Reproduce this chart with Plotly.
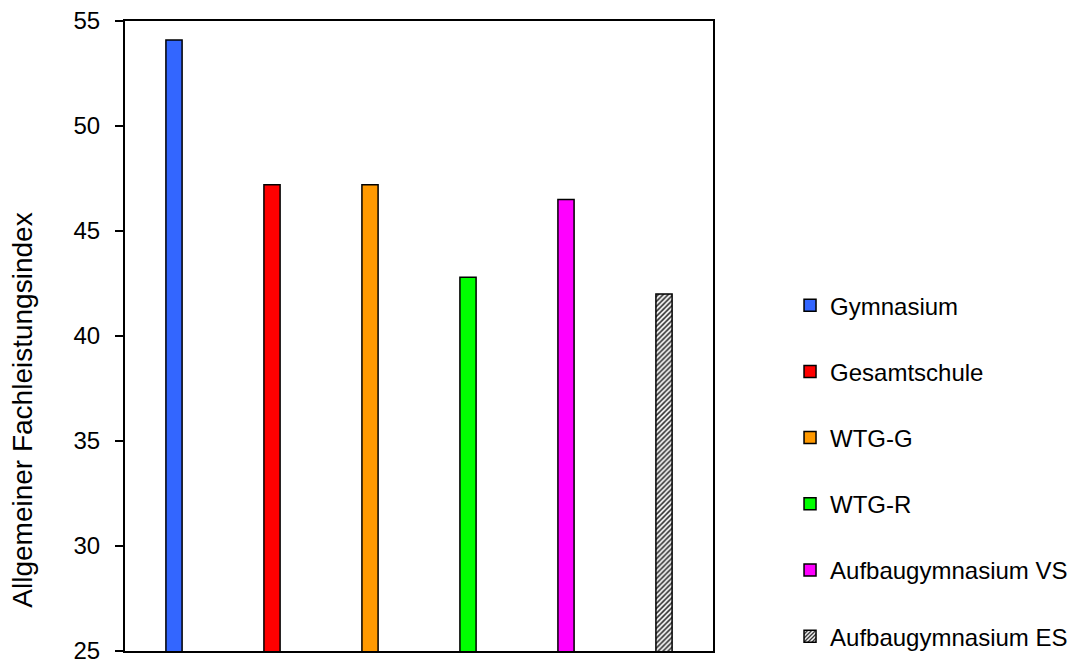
import plotly.graph_objects as go

categories = ["Gymnasium", "Gesamtschule", "WTG-G", "WTG-R",
              "Aufbaugymnasium VS", "Aufbaugymnasium ES"]
values = [54.1, 47.2, 47.2, 42.8, 46.5, 42.0]
colors = ["#3366FF", "#FF0000", "#FF9900", "#00FF00", "#FF00FF", "#FFFFFF"]
patterns = ["", "", "", "", "", "/"]
y_ticks = [25, 30, 35, 40, 45, 50, 55]
y_title = "Allgemeiner Fachleistungsindex"

FONT = "Arial, 'Liberation Sans', sans-serif"

fig = go.Figure()
for i, (cat, val, col, pat) in enumerate(zip(categories, values, colors, patterns)):
    marker = dict(color=col, line=dict(color="black", width=1.5))
    if pat:
        marker["pattern"] = dict(shape=pat, fgcolor="#222222", bgcolor="#FFFFFF",
                                 size=3.5, solidity=0.45, fillmode="replace")
    fig.add_trace(go.Bar(x=[cat], y=[val], name=cat, marker=marker,
                         width=0.165, legendgroup=cat, base=0))

fig.update_layout(
    width=1071, height=661,
    margin=dict(l=125, r=358, t=21, b=10, autoexpand=False),
    paper_bgcolor="white", plot_bgcolor="white",
    barmode="overlay",
    font=dict(family=FONT, size=24, color="black"),
    showlegend=True,
    legend=dict(x=1.131, xanchor="left", y=0.584, yanchor="top",
                tracegroupgap=32, font=dict(size=24, family=FONT),
                bgcolor="rgba(0,0,0,0)"),
    xaxis=dict(categoryorder="array", categoryarray=categories,
               showticklabels=False, ticks="", showline=True, linecolor="black",
               linewidth=2, mirror=True, showgrid=False, zeroline=False),
    yaxis=dict(range=[25, 55], tickvals=y_ticks, ticks="outside", ticklen=8,
               tickwidth=2, tickcolor="black", showline=True, linecolor="black",
               linewidth=2, mirror=True, showgrid=False, zeroline=False,
               ticklabelstandoff=10, ticklabeloverflow="allow",
               tickfont=dict(size=24, family=FONT)),
    annotations=[dict(text=y_title, textangle=-90, xref="paper", yref="paper",
                      x=-0.1735, y=0.383, xanchor="center", yanchor="middle",
                      showarrow=False, font=dict(size=28, family=FONT))],
)

fig.write_html("out.html", config={"displayModeBar": False},
               post_script="document.body.style.margin='0';document.body.style.overflow='hidden';")
